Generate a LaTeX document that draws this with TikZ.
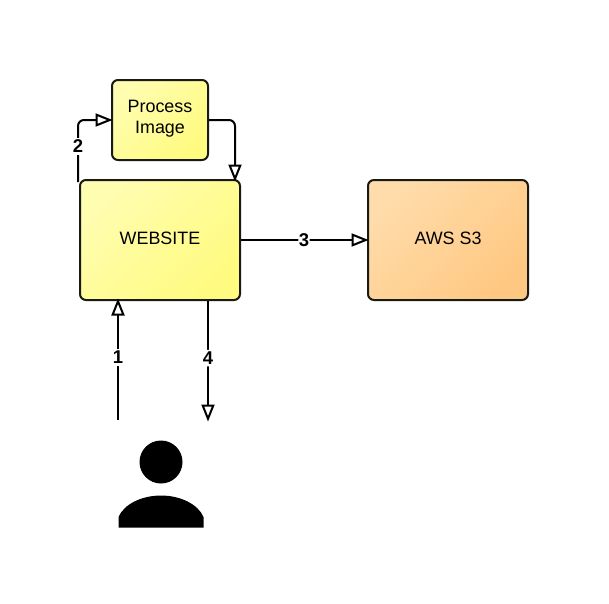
\documentclass[tikz,border=0pt]{standalone}
\usepackage{fontspec}
\setmainfont{Liberation Sans}
\usetikzlibrary{arrows.meta}
\definecolor{ylight}{HTML}{FFFDB0}
\definecolor{ydeep}{HTML}{FFFB80}
\definecolor{olight}{HTML}{FFDCAA}
\definecolor{odeep}{HTML}{FFC882}
\definecolor{edge}{HTML}{1A1A14}
\newcommand\liftby[1]{\rule[-#1]{0pt}{#1}}
\tikzset{
  x=1pt,y=-1pt,
  boxbase/.style={draw=edge,line width=2pt,rounded corners=6pt,inner sep=0pt,align=center,font=\fontsize{17.9}{21}\selectfont},
  yellowbox/.style={boxbase,left color=ylight,right color=ydeep,shading angle=45},
  orangebox/.style={boxbase,left color=olight,right color=odeep,shading angle=45},
  conn/.style={line width=2pt,black,rounded corners=6pt,shorten >=-1.5pt,-{Triangle[open,length=17pt,width=13pt,line width=2pt,fill=white]}},
  numlabel/.style={fill=white,inner sep=2pt,font=\bfseries\fontsize{18.5}{18.5}\selectfont},
}
\begin{document}
\begin{tikzpicture}
\useasboundingbox (0,0) rectangle (609,603);
\node[yellowbox,minimum width=160pt,minimum height=120pt] (web) at (160,240) {WEBSITE\liftby{3pt}};
\node[yellowbox,minimum width=96pt,minimum height=80pt] (proc) at (160,120) {Process\\Image\liftby{5.8pt}};
\node[orangebox,minimum width=160pt,minimum height=120pt] (s3) at (448,240) {AWS S3\liftby{3pt}};
\coordinate (u1) at (118,420);
\coordinate (u4) at (208,420);
\coordinate (w1) at (118,300);
\coordinate (w4) at (208,301);
\coordinate (w2) at (78,182);
\coordinate (w2b) at (78,120);
\coordinate (p3) at (235,120);
\coordinate (w3) at (235,180);
\draw[conn] (u1) -- node[numlabel,pos=0.52] {1} (w1);
\draw[conn] (w4) -- node[numlabel,pos=0.48] {4} (u4);
\draw[conn] (w2) -- node[numlabel,pos=0.58,rounded corners=0pt] {2} (w2b) -- (proc.west);
\draw[conn] (proc.east) -- (p3) -- (w3);
\draw[conn] (web.east) -- node[numlabel,pos=0.5,inner sep=0.5pt] {3} (s3.west);
\fill[black] (161,462) circle[radius=21.5];
\fill[black] (118.5,527.5) -- (118.5,517) .. controls (124,504) and (142,495.5) .. (161,495.5) .. controls (180,495.5) and (198,504) .. (203.5,517) -- (203.5,527.5) -- cycle;
\end{tikzpicture}
\end{document}
